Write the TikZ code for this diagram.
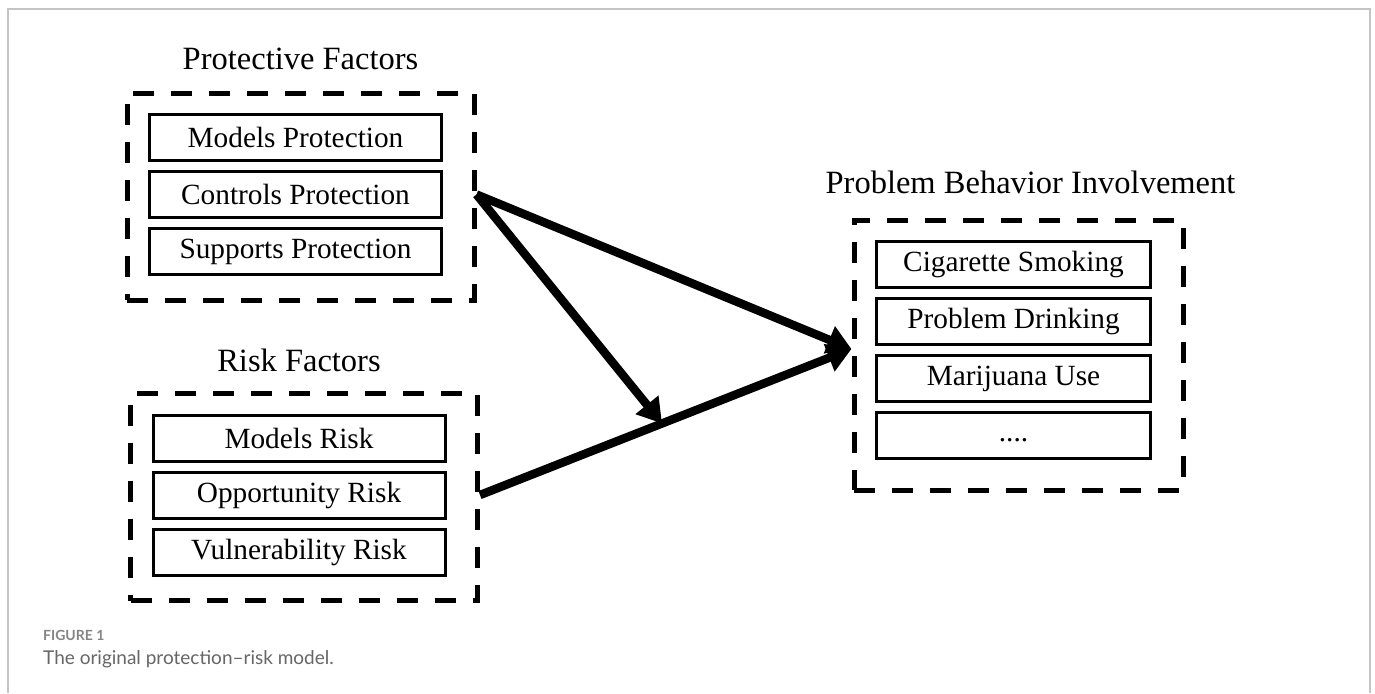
\documentclass[tikz,border=0pt]{standalone}
\usepackage{fontspec}
\setmainfont{Liberation Serif}
\newfontfamily\capfont{Lato}
\usetikzlibrary{positioning,fit,calc,arrows.meta}
\definecolor{capgrey}{HTML}{666666}
\definecolor{framegrey}{HTML}{C4C4C4}
\tikzset{
>={Triangle[length=24pt,width=28pt]},
  factorbox/.style={
    rectangle,
    draw=black, line width=3pt,
    minimum width=292pt,
    minimum height=46pt,
    inner sep=0pt,
    font=\fontsize{29.3}{33}\selectfont,
    text centered},
  groupframe/.style={
    rectangle,
    draw=black, line width=5pt,
    dash pattern=on 21pt off 17pt,
    inner xsep=26pt, inner ysep=22pt,
    xshift=5pt, yshift=-2pt},
  grouptitle/.style={
    font=\fontsize{32.5}{38}\selectfont, anchor=base},
  link/.style={draw, ->, line width=8.5pt},
}
\begin{document}
\begin{tikzpicture}[x=1pt,y=-1pt,node distance=8pt]
  \useasboundingbox (0,0) rectangle (1375,693);
  % grey figure panel (open at the bottom)
  \draw[framegrey, line width=2pt] (8,693) -- (8,9) -- (1370,9) -- (1370,693);
  % protective factors
  \node[factorbox] (modprot) at (295.5,137.5) {Models Protection};
  \node[factorbox, below=of modprot] (ctrlprot) {Controls Protection};
  \node[factorbox, below=of ctrlprot] (suppprot) {Supports Protection};
  \node[groupframe, fit=(modprot)(suppprot)] (protframe) {};
  \node[above=21pt of protframe, grouptitle] (prottitle) {Protective Factors};
  % risk factors
  \node[factorbox] (modrisk) at (299,438) {Models Risk};
  \node[factorbox, below=of modrisk] (opprisk) {Opportunity Risk};
  \node[factorbox, below=of opprisk] (vulnrisk) {Vulnerability Risk};
  \node[groupframe, fit=(modrisk)(vulnrisk)] (riskframe) {};
  \node[above=20pt of riskframe, grouptitle, xshift=-5pt] (risktitle) {Risk Factors};
  % problem behaviour
  \node[factorbox, minimum width=274pt] (smoking) at (1013.5,264.5) {Cigarette Smoking};
  \node[factorbox, minimum width=274pt, below=of smoking] (drinking) {Problem Drinking};
  \node[factorbox, minimum width=274pt, below=of drinking] (marijuana) {Marijuana Use};
  \node[factorbox, minimum width=274pt, below=of marijuana] (etc) {\vphantom{Mg}....};
  \node[groupframe, inner ysep=25pt, yshift=-3pt, fit=(smoking)(etc)] (behframe) {};
  \node[above=24pt of behframe, grouptitle, xshift=12pt] (behtitle) {Problem Behavior Involvement};
  % the links
  \coordinate (protout) at (ctrlprot -| protframe.east);
  \coordinate (riskout) at (opprisk -| riskframe.east);
  \coordinate (behin) at ($(behframe.west)+(0,-6)$);
  \path[link] (protout) -- (behin);
  \path[link] (riskout) -- coordinate[pos=0.49] (meet) (behin);
  \path[link] (protout) -- (meet);
  % caption
  \node[anchor=base west, inner sep=0pt, capgrey!80, font=\capfont\bfseries\fontsize{14}{16}\selectfont]
    (caplabel) at (43,640) {FIGURE 1};
  \node[anchor=base west, inner sep=0pt, capgrey, font=\capfont\fontsize{19}{22}\selectfont]
    (captext) at (43,664) {The original protection–risk model.};
\end{tikzpicture}
\end{document}
